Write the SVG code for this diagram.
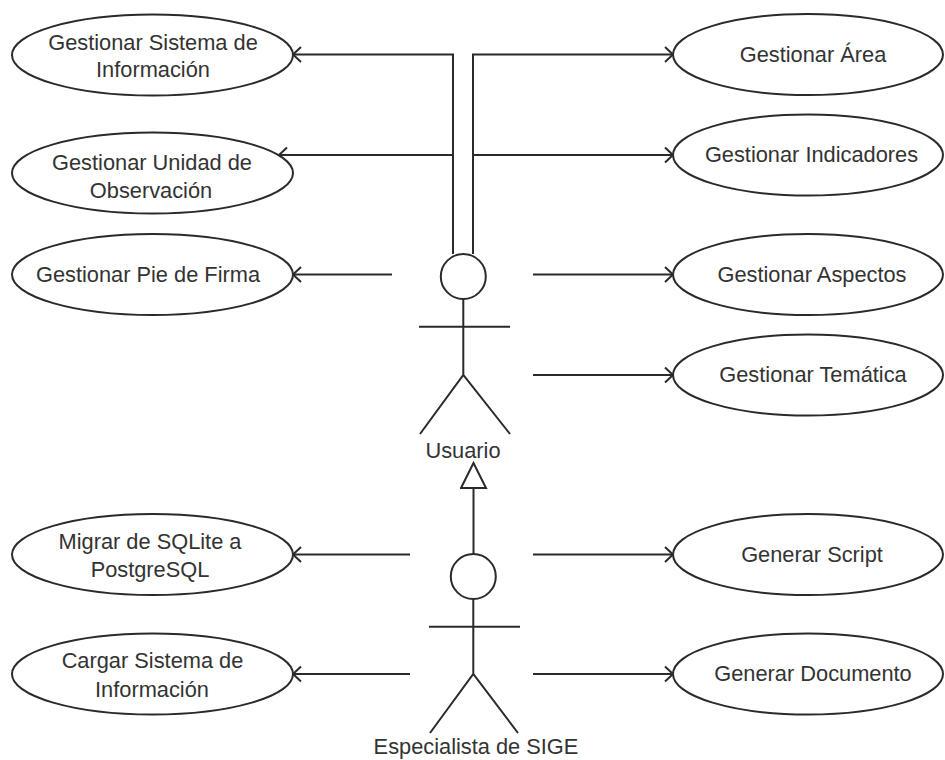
<svg xmlns="http://www.w3.org/2000/svg" width="945" height="760" viewBox="0 0 945 760">
<style>
  .uc { fill: #ffffff; stroke: #2a2a2a; stroke-width: 2; }
  .t { font-family: "Liberation Sans", Arial, sans-serif; font-size: 21.8px; fill: #333333; text-anchor: middle; }
  .actor { fill: none; stroke: #2a2a2a; stroke-width: 2; }
  .head { fill: #ffffff; stroke: #2a2a2a; stroke-width: 2; }
  .edge { fill: none; stroke: #2a2a2a; stroke-width: 2; }
  .assoc { marker-end: url(#open); }
  .gen { marker-end: url(#tri); }
</style>
<defs>
  <marker id="open" viewBox="-10 -9 12 18" refX="0" refY="0" markerWidth="12" markerHeight="18" orient="auto" markerUnits="userSpaceOnUse">
    <path d="M-8,-7.5 L0,0 L-8,7.5" fill="none" stroke="#2a2a2a" stroke-width="2"/>
  </marker>
  <marker id="tri" viewBox="-27 -14 29 28" refX="0" refY="0" markerWidth="29" markerHeight="28" orient="auto" markerUnits="userSpaceOnUse">
    <path d="M-25,-12.5 L0,0 L-25,12.5 Z" fill="#ffffff" stroke="#2a2a2a" stroke-width="2"/>
  </marker>
</defs>
<rect width="945" height="760" fill="#ffffff"/>

<g id="connectors">
  <path class="edge assoc" d="M453,254 V54.5 H293"/>
  <path class="edge assoc" d="M453,254 V155 H279"/>
  <path class="edge assoc" d="M473,254 V54.5 H673"/>
  <path class="edge assoc" d="M473,254 V155 H673"/>
  <path class="edge assoc" d="M392,274.5 H293"/>
  <path class="edge assoc" d="M533,274.5 H673"/>
  <path class="edge assoc" d="M533,375 H673"/>
  <path class="edge assoc" d="M410,554.5 H293"/>
  <path class="edge assoc" d="M410,674 H293"/>
  <path class="edge assoc" d="M533,554.5 H673"/>
  <path class="edge assoc" d="M533,674 H673"/>
  <path class="edge gen" d="M473.5,554 V463"/>
</g>

<g id="uc-gestionar-sistema">
  <ellipse class="uc" cx="152.5" cy="55" rx="140.5" ry="40.5"/>
  <text class="t" x="153" y="50">Gestionar Sistema de</text>
  <text class="t" x="153" y="77">Información</text>
</g>
<g id="uc-gestionar-unidad">
  <ellipse class="uc" cx="152.5" cy="173" rx="140.5" ry="40.5"/>
  <text class="t" x="152" y="170">Gestionar Unidad de</text>
  <text class="t" x="151" y="198">Observación</text>
</g>
<g id="uc-pie-firma">
  <ellipse class="uc" cx="152.5" cy="274.5" rx="140.5" ry="40.5"/>
  <text class="t" x="148" y="281.5">Gestionar Pie de Firma</text>
</g>
<g id="uc-migrar">
  <ellipse class="uc" cx="152.5" cy="554.5" rx="140.5" ry="40.5"/>
  <text class="t" x="150" y="549">Migrar de SQLite a</text>
  <text class="t" x="150" y="577">PostgreSQL</text>
</g>
<g id="uc-cargar">
  <ellipse class="uc" cx="152.5" cy="674" rx="140.5" ry="40.5"/>
  <text class="t" x="152.5" y="668">Cargar Sistema de</text>
  <text class="t" x="152" y="697">Información</text>
</g>

<g id="uc-area">
  <ellipse class="uc" cx="808" cy="54.5" rx="135" ry="40.5"/>
  <text class="t" x="813" y="61.5">Gestionar Área</text>
</g>
<g id="uc-indicadores">
  <ellipse class="uc" cx="808" cy="155" rx="135" ry="40.5"/>
  <text class="t" x="811.5" y="162">Gestionar Indicadores</text>
</g>
<g id="uc-aspectos">
  <ellipse class="uc" cx="808" cy="274.5" rx="135" ry="40.5"/>
  <text class="t" x="812" y="281.5">Gestionar Aspectos</text>
</g>
<g id="uc-tematica">
  <ellipse class="uc" cx="808" cy="375" rx="135" ry="40.5"/>
  <text class="t" x="813" y="382">Gestionar Temática</text>
</g>
<g id="uc-script">
  <ellipse class="uc" cx="808" cy="554.5" rx="135" ry="40.5"/>
  <text class="t" x="812" y="561.5">Generar Script</text>
</g>
<g id="uc-documento">
  <ellipse class="uc" cx="808" cy="674" rx="135" ry="40.5"/>
  <text class="t" x="813" y="681">Generar Documento</text>
</g>

<g id="actor-usuario">
  <circle class="head" cx="463.3" cy="276.5" r="22.5"/>
  <path class="actor" d="M463.3,299 V375 M419,326.7 H510 M420,434 L463.3,375 L510,434"/>
  <text class="t" x="463" y="458">Usuario</text>
</g>
<g id="actor-especialista">
  <circle class="head" cx="473.3" cy="576.5" r="22.5"/>
  <path class="actor" d="M473.3,599 V674 M429,626.7 H520 M430,733 L473.3,674 L518,733"/>
  <text class="t" x="476" y="754">Especialista de SIGE</text>
</g>
</svg>
